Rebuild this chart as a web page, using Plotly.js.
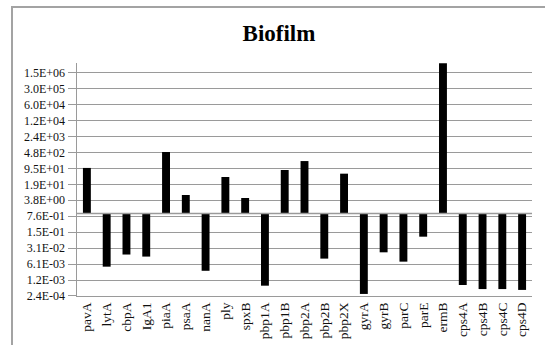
<!DOCTYPE html>
<html>
<head>
<meta charset="utf-8">
<script src="https://cdn.plot.ly/plotly-3.0.1.min.js"></script>
<style>
  html, body { margin: 0; padding: 0; background: #fff; }
  #wrap { position: relative; width: 545px; height: 345px; overflow: hidden; }
  #chart { position: absolute; left: 0; top: 0; width: 545px; height: 345px; }
  #frame { position: absolute; left: 11px; top: 6px; width: 700px; height: 500px;
           border-left: 2px solid #a3a3a3; border-top: 2px solid #a3a3a3; pointer-events: none; }
</style>
</head>
<body>
<div id="wrap">
  <div id="chart"></div>
  <div id="frame"></div>
</div>
<script>
// Genes on the category axis
var genes = ['pavA', 'lytA', 'cbpA', 'IgA1', 'piaA', 'psaA', 'nanA', 'ply', 'spxB',
             'pbp1A', 'pbp1B', 'pbp2A', 'pbp2B', 'pbp2X', 'gyrA', 'gyrB', 'parC',
             'parE', 'ermB', 'cps4A', 'cps4B', 'cps4C', 'cps4D'];

// Relative expression in biofilm (fold change, 1 = no change)
var foldChange = [100, 0.0047, 0.016, 0.013, 500, 6.5, 0.0031, 40, 4.8,
                  0.00069, 81, 200, 0.0106, 56, 0.00030, 0.020, 0.0078,
                  0.097, 3900000, 0.00074, 0.00049, 0.00049, 0.00045];

// Reference level the bars grow from
var baseline = 1;

// Log-scale ticks, one step of x5 apart
var tickValues = [0.00024414, 0.0012207, 0.0061035, 0.030518, 0.15259, 0.76294,
                  3.8147, 19.073, 95.367, 476.84, 2384.2, 11921, 59605, 298023, 1490116];
var tickLabels = ['2.4E-04', '1.2E-03', '6.1E-03', '3.1E-02', '1.5E-01', '7.6E-01',
                  '3.8E+00', '1.9E+01', '9.5E+01', '4.8E+02', '2.4E+03', '1.2E+04',
                  '6.0E+04', '3.0E+05', '1.5E+06'];

var serif = 'Liberation Serif, Times New Roman, serif';

var bars = {
  type: 'bar',
  x: genes,
  base: baseline,
  y: foldChange.map(function (v) { return v - baseline; }),
  marker: { color: '#000000', line: { width: 0 } },
  hoverinfo: 'x+text',
  text: foldChange.map(String),
  textposition: 'none'
};

// Horizontal axis line at the baseline level
var axisLine = {
  type: 'scatter',
  mode: 'lines',
  x: [0, 1],
  y: [baseline, baseline],
  xaxis: 'x2',
  line: { color: '#9a9a9a', width: 1.5 },
  hoverinfo: 'skip'
};

var layout = {
  width: 545,
  height: 345,
  margin: { l: 77, r: 13, t: 63, b: 49 },
  paper_bgcolor: '#ffffff',
  plot_bgcolor: '#ffffff',
  showlegend: false,
  bargap: 0.6,
  title: {
    text: 'Biofilm',
    font: { family: serif, size: 23, color: '#000000', weight: 'bold' },
    x: 279 / 545, xanchor: 'center', xref: 'container',
    y: 1 - 33 / 345, yanchor: 'middle', yref: 'container'
  },
  xaxis: {
    type: 'category',
    showgrid: false,
    zeroline: false,
    showline: true,
    linecolor: '#9a9a9a',
    linewidth: 1,
    ticks: '',
    tickangle: -90,
    tickfont: { family: serif, size: 13.5, color: '#111111' }
  },
  xaxis2: {
    overlaying: 'x',
    range: [0, 1],
    visible: false
  },
  yaxis: {
    type: 'log',
    range: [Math.log10(0.00024414) - 0.001, Math.log10(3970000)],
    tickmode: 'array',
    tickvals: tickValues,
    ticktext: tickLabels,
    showgrid: true,
    gridcolor: '#9a9a9a',
    gridwidth: 1,
    zeroline: false,
    showline: true,
    linecolor: '#9a9a9a',
    linewidth: 1.5,
    ticks: 'outside',
    ticklen: 8,
    tickcolor: '#9a9a9a',
    tickfont: { family: serif, size: 12, color: '#111111' }
  }
};

Plotly.newPlot('chart', [bars, axisLine], layout, { displayModeBar: false, staticPlot: true });
</script>
</body>
</html>
